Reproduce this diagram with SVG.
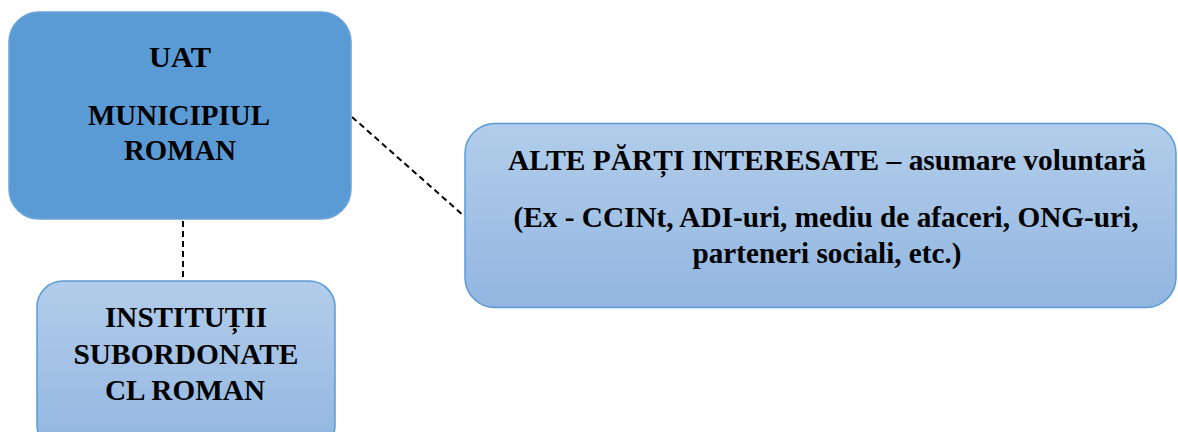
<svg xmlns="http://www.w3.org/2000/svg" width="1178" height="432" viewBox="0 0 1178 432">
<defs>
<linearGradient id="lg" x1="0" y1="0" x2="0" y2="1">
<stop offset="0" stop-color="#B2CDEA"/>
<stop offset="1" stop-color="#92B6E1"/>
</linearGradient>
<style>
.dark{fill:#5B9BD5;stroke:#6BA5DA;stroke-width:1.5}
.light{fill:url(#lg);stroke:#5B9BD5;stroke-width:1.5}
.c{stroke:#000;stroke-width:2;stroke-dasharray:6,4;fill:none}
</style>
</defs>
<rect width="1178" height="432" fill="#fff"/>
<g id="connectors">
<line class="c" x1="183" y1="221" x2="183" y2="280"/>
<line class="c" x1="352" y1="117" x2="464" y2="216"/>
</g>
<g id="uat">
<rect class="dark" x="9" y="12" width="342" height="207" rx="30" ry="30"/>
<text font-family="Liberation Serif, serif" font-weight="bold" font-size="29" fill="#000" text-anchor="middle" x="180" y="67" textLength="62" lengthAdjust="spacingAndGlyphs">UAT</text>
<text font-family="Liberation Serif, serif" font-weight="bold" font-size="29" fill="#000" text-anchor="middle" x="179" y="125" textLength="182" lengthAdjust="spacingAndGlyphs">MUNICIPIUL</text>
<text font-family="Liberation Serif, serif" font-weight="bold" font-size="29" fill="#000" text-anchor="middle" x="180" y="160" textLength="112" lengthAdjust="spacingAndGlyphs">ROMAN</text>
</g>
<g id="institutii">
<rect class="light" x="37" y="281" width="298" height="170" rx="26" ry="26"/>
<text font-family="Liberation Serif, serif" font-weight="bold" font-size="29" fill="#000" text-anchor="middle" x="186" y="327" textLength="162" lengthAdjust="spacingAndGlyphs">INSTITUȚII</text>
<text font-family="Liberation Serif, serif" font-weight="bold" font-size="29" fill="#000" text-anchor="middle" x="186" y="364" textLength="225" lengthAdjust="spacingAndGlyphs">SUBORDONATE</text>
<text font-family="Liberation Serif, serif" font-weight="bold" font-size="29" fill="#000" text-anchor="middle" x="185" y="400" textLength="160" lengthAdjust="spacingAndGlyphs">CL ROMAN</text>
</g>
<g id="alte">
<rect class="light" x="465" y="123.5" width="711" height="184" rx="30" ry="30"/>
<text font-family="Liberation Serif, serif" font-weight="bold" font-size="29" fill="#000" text-anchor="middle" x="827" y="170" textLength="638" lengthAdjust="spacingAndGlyphs">ALTE PĂRȚI INTERESATE – asumare voluntară</text>
<text font-family="Liberation Serif, serif" font-weight="bold" font-size="29" fill="#000" text-anchor="middle" x="826" y="227" textLength="625" lengthAdjust="spacingAndGlyphs">(Ex - CCINt, ADI-uri, mediu de afaceri, ONG-uri,</text>
<text font-family="Liberation Serif, serif" font-weight="bold" font-size="29" fill="#000" text-anchor="middle" x="827" y="263" textLength="269" lengthAdjust="spacingAndGlyphs">parteneri sociali, etc.)</text>
</g>
</svg>
